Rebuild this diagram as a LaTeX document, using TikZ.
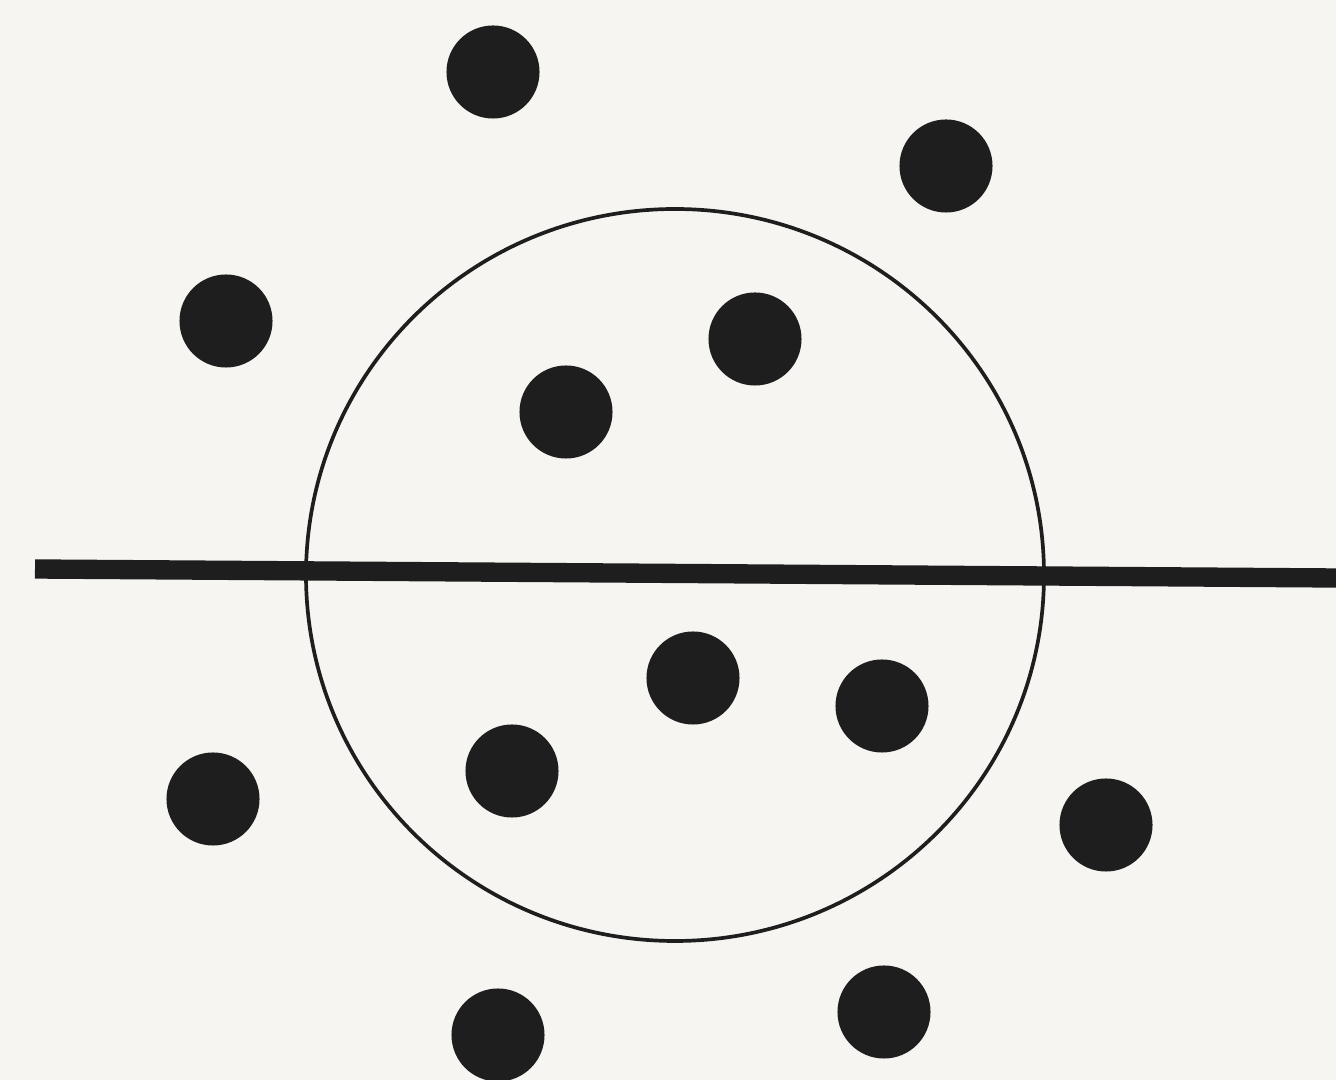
\documentclass[tikz,border=0pt]{standalone}
\definecolor{paper}{RGB}{246,245,241}
\definecolor{ink}{RGB}{30,30,30}
\begin{document}
\begin{tikzpicture}[x=0.01cm,y=-0.01cm,
  blob/.style={circle,fill=ink,inner sep=0pt,minimum size=0.93cm}]
\fill[paper] (0,0) rectangle (1336,1080);
\useasboundingbox (0,0) rectangle (1336,1080);
\draw[ink,line width=1.05pt] (675,575) ellipse [x radius=369,y radius=366];
\draw[ink,line width=5.5pt] (35,569) -- (1336,578);
\node[blob] (d1) at (493,72) {};
\node[blob] (d2) at (946,166) {};
\node[blob] (d3) at (226,321) {};
\node[blob] (d4) at (755,339) {};
\node[blob] (d5) at (566,412) {};
\node[blob] (d6) at (693,678) {};
\node[blob] (d7) at (882,706) {};
\node[blob] (d8) at (512,771) {};
\node[blob] (d9) at (213,799) {};
\node[blob] (d10) at (1106,825) {};
\node[blob] (d11) at (498,1035) {};
\node[blob] (d12) at (884,1012) {};
\end{tikzpicture}
\end{document}
